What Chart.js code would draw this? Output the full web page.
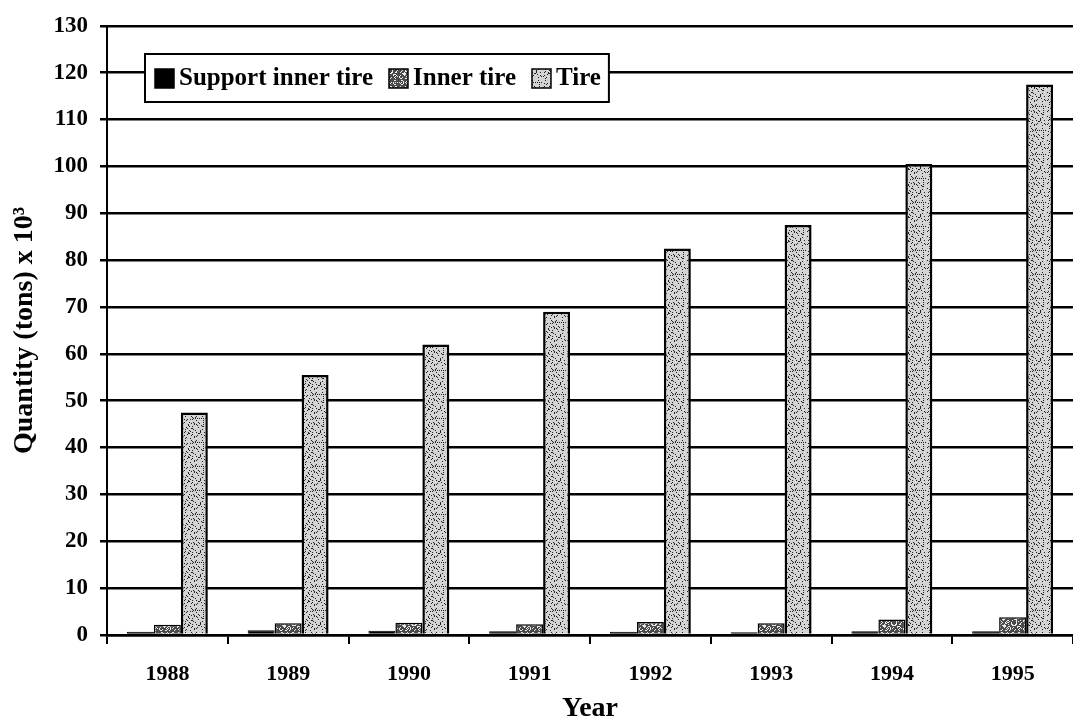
<!DOCTYPE html>
<html>
<head>
<meta charset="utf-8">
<script src="https://cdn.jsdelivr.net/npm/chart.js@4.4.1/dist/chart.umd.min.js"></script>
<style>
  html, body { margin: 0; padding: 0; background: #fff; }
  #wrap { width: 1073px; height: 721px; position: relative; }
</style>
</head>
<body>
<div id="wrap"><canvas id="grafico"></canvas></div>
<script>
const anos = ['1988', '1989', '1990', '1991', '1992', '1993', '1994', '1995'];
const supportInnerTire = [0.7, 1.0, 0.9, 0.8, 0.7, 0.6, 0.8, 0.8];
const innerTire = [2.2, 2.5, 2.6, 2.3, 2.8, 2.5, 3.3, 3.8];
const tire = [47.5, 55.5, 62, 69, 82.5, 87.5, 100.5, 117.5];
const yTicks = [0, 10, 20, 30, 40, 50, 60, 70, 80, 90, 100, 110, 120, 130];

const fonte = '"Liberation Serif", "DejaVu Serif", serif';

// textura pontilhada (estilo impressao antiga)
function textura(base, ponto, densidade) {
  const c = document.createElement('canvas');
  c.width = 24; c.height = 24;
  const g = c.getContext('2d');
  g.fillStyle = base;
  g.fillRect(0, 0, 24, 24);
  g.fillStyle = ponto;
  for (let i = 0; i < 24; i++) {
    for (let j = 0; j < 24; j++) {
      const h = ((i * 73 + j * 151 + i * j * 17) % 97);
      if (h < densidade) g.fillRect(i, j, 1, 1);
    }
  }
  return g.createPattern(c, 'repeat');
}

const padraoInner = textura('#4a4a4a', '#e8e8e8', 28);
const padraoTire = textura('#d4d4d4', '#222', 14);

// legenda desenhada dentro da area do grafico, com moldura
const legendaBox = {
  id: 'legendaBox',
  afterDraw(chart) {
    const ctx = chart.ctx;
    const x0 = 145, y0 = 54, h = 48;
    ctx.save();
    ctx.font = 'bold 25px ' + fonte;
    ctx.textBaseline = 'middle';
    const itens = chart.data.datasets;
    let largura = 10;
    itens.forEach((ds, i) => {
      largura += 19 + 5 + ctx.measureText(ds.label).width + (i < itens.length - 1 ? 16 : 8);
    });
    ctx.fillStyle = '#fff';
    ctx.fillRect(x0, y0, largura, h);
    ctx.strokeStyle = '#000';
    ctx.lineWidth = 2;
    ctx.strokeRect(x0, y0, largura, h);
    let x = x0 + 10;
    const cy = y0 + h / 2;
    itens.forEach((ds, i) => {
      ctx.fillStyle = ds.backgroundColor;
      ctx.fillRect(x, cy - 9, 19, 19);
      ctx.strokeStyle = '#000';
      ctx.lineWidth = 1.5;
      ctx.strokeRect(x, cy - 9, 19, 19);
      x += 19 + 5;
      ctx.fillStyle = '#000';
      ctx.fillText(ds.label, x, cy + 1);
      x += ctx.measureText(ds.label).width + 16;
    });
    ctx.restore();
  }
};

new Chart(document.getElementById('grafico'), {
  type: 'bar',
  data: {
    labels: anos,
    datasets: [
      { label: 'Support inner tire', data: supportInnerTire, backgroundColor: '#000', borderColor: '#000', borderWidth: 1 },
      { label: 'Inner tire', data: innerTire, backgroundColor: padraoInner, borderColor: '#000', borderWidth: 1.5 },
      { label: 'Tire', data: tire, backgroundColor: padraoTire, borderColor: '#000', borderWidth: 2.5 }
    ]
  },
  options: {
    responsive: true,
    maintainAspectRatio: false,
    animation: false,
    layout: { padding: { top: 24, right: 0, left: 0, bottom: 0 } },
    datasets: { bar: { categoryPercentage: 0.67, barPercentage: 1.0 } },
    plugins: {
      legend: { display: false },
      tooltip: { enabled: false }
    },
    scales: {
      x: {
        afterFit: s => { s.height = 86; },
        grid: { display: true, drawOnChartArea: false, offset: true, tickLength: 9, color: '#000', lineWidth: 2 },
        border: { display: true, color: '#000', width: 2.5 },
        ticks: { color: '#000', padding: 17, font: { family: fonte, size: 22, weight: 'bold' } },
        title: { display: true, text: 'Year', color: '#000', padding: 0, font: { family: fonte, size: 28, weight: 'bold', lineHeight: 0.9 } }
      },
      y: {
        min: 0,
        max: 130,
        afterFit: s => { s.width = 107; },
        afterBuildTicks: s => { s.ticks = yTicks.map(v => ({ value: v })); },
        grid: { color: '#000', lineWidth: 2.5, tickLength: 7 },
        border: { display: true, color: '#000', width: 2 },
        ticks: { color: '#000', padding: 12, font: { family: fonte, size: 23, weight: 'bold' } },
        title: { display: true, text: 'Quantity (tons) x 10³', color: '#000', padding: { top: 8, bottom: 0 }, font: { family: fonte, size: 28, weight: 'bold', lineHeight: 1.2 } }
      }
    }
  },
  plugins: [legendaBox]
});
</script>
</body>
</html>
